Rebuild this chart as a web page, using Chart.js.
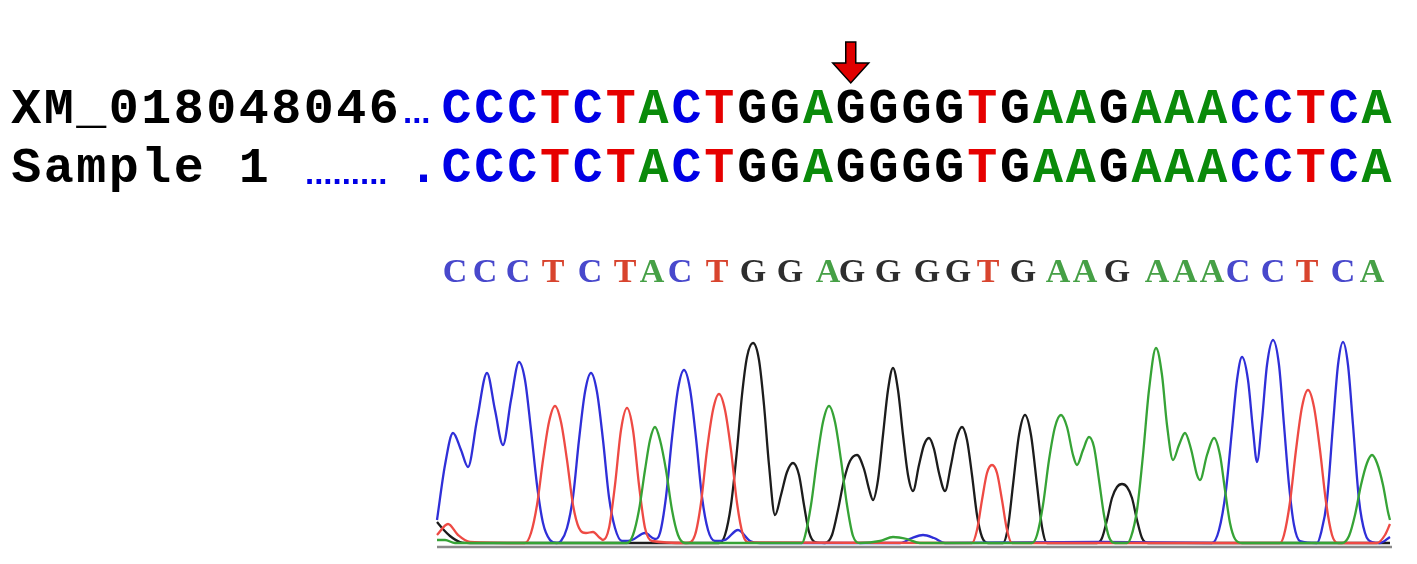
<!DOCTYPE html>
<html>
<head>
<meta charset="utf-8">
<script src="https://cdn.jsdelivr.net/npm/chart.js@4.4.1/dist/chart.umd.min.js"></script>
<style>
html,body{margin:0;padding:0;background:#fff;}
canvas{display:block;}
</style>
</head>
<body>
<canvas id="c" width="1417" height="564"></canvas>
<script>
// ---- data ----
const refLabel = "XM_018048046";
const sampleLabel = "Sample 1";
const refSeq = "CCCTCTACTGGAGGGGTGAAGAAACCTCA";
const sampleSeq = "CCCTCTACTGGAGGGGTGAAGAAACCTCA";
const baseCalls = "CCCTCTACTGGAGGGGTGAAGAAACCTCA".split("");
const basePositions = [18,48,81,116,153,188,215,243,280,316,353,391,415,451,490,521,551,586,621,648,680,720,748,775,801,836,870,906,935];
const snpIndex = 12;

// trace samples [scan, intensity]
const traceC = [[0,250],[8,800],[16,1120],[24,950],[31,780],[40,1250],[50,1720],[58,1350],[66,1000],[74,1450],[82,1830],[88,1650],[94,1150],[100,600],[106,220],[113,50],[120,20],
  [124,40],[130,170],[136,480],[142,1050],[148,1530],[154,1720],[160,1530],[166,1050],[172,480],[178,170],[185,40],
  [195,50],[208,120],[218,60],
  [223,120],[229,480],[235,1070],[241,1560],[247,1750],[253,1560],[259,1070],[265,480],[271,150],[278,40],
  [288,50],[301,150],[313,40],[323,20],[463,20],[475,70],[486,100],[497,70],[508,20],[663,30],[775,20],
  [782,150],[789,550],[795,1150],[800,1650],[805,1880],[811,1650],[816,1150],[820,830],[825,1250],[830,1800],[836,2050],[842,1800],[847,1200],[852,600],[857,200],[863,40],[880,20],
  [884,120],[890,450],[896,1200],[901,1800],[906,2030],[911,1800],[916,1200],[922,450],[928,120],[935,30],[943,20],[953,80]];
const traceT = [[0,100],[11,210],[21,100],[33,30],[88,20],
  [94,120],[100,400],[106,850],[112,1230],[118,1390],[124,1230],[130,850],[136,400],[142,170],[149,120],[156,130],[163,70],
  [166,50],[172,170],[178,600],[184,1150],[190,1370],[196,1150],[202,600],[208,170],[215,40],[250,20],
  [258,100],[264,420],[270,950],[276,1350],[282,1510],[288,1350],[294,950],[300,420],[306,100],[313,25],[530,20],
  [535,20],[540,150],[545,450],[550,720],[555,800],[560,720],[565,450],[570,150],[575,20],[843,20],
  [847,100],[853,430],[859,950],[865,1380],[871,1550],[877,1380],[883,950],[889,430],[895,100],[901,20],
  [940,20],[948,100],[953,210]];
const traceA = [[0,50],[8,50],[18,20],[190,20],
  [196,100],[202,350],[208,750],[213,1050],[218,1180],[223,1050],[229,750],[235,350],[241,100],[248,20],[365,20],
  [368,90],[374,400],[380,850],[386,1230],[392,1390],[398,1230],[404,850],[410,400],[416,90],[423,20],
  [443,40],[456,80],[470,60],[483,20],[595,20],
  [600,100],[606,400],[612,850],[618,1180],[624,1300],[630,1180],[636,900],[640,800],[646,950],[652,1080],[657,980],[662,650],[667,300],[672,80],[678,20],[690,20],
  [694,80],[700,350],[706,900],[712,1550],[719,1970],[725,1700],[730,1200],[736,850],[742,1000],[748,1120],[754,960],[760,700],[763,650],[770,900],[777,1070],[783,900],[788,550],[793,220],[798,60],[805,20],[905,20],
  [912,90],[918,300],[924,600],[930,820],[935,900],[940,820],[946,600],[951,330],[953,250]];
const traceG = [[0,230],[5,170],[13,90],[23,30],[33,20],[282,20],
  [288,100],[294,400],[300,950],[305,1500],[310,1880],[316,2020],[322,1850],[327,1400],[332,800],[338,300],[344,500],[350,730],[356,820],[362,700],[367,400],[372,130],[378,30],[388,20],
  [395,100],[401,350],[407,650],[413,840],[420,900],[427,760],[432,560],[436,450],[441,650],[446,1100],[451,1550],[456,1770],[461,1550],[466,1100],[471,700],[476,540],[482,800],[487,1000],[492,1070],[497,960],[502,720],[508,540],[514,800],[519,1050],[525,1180],[530,1050],[535,700],[540,300],[545,80],[551,20],
  [566,20],[571,180],[576,600],[582,1100],[588,1300],[594,1100],[600,600],[605,180],[610,20],[660,20],
  [665,70],[670,250],[675,470],[680,580],[685,610],[690,580],[695,470],[700,250],[705,70],[711,20],[953,20]];

// ---- styles ----
const seqColor = {A:"#0a8a0a", C:"#0000e6", G:"#000000", T:"#e60000"};
const traceColor = {A:"#36a336", C:"#2f2fd8", G:"#1c1c1c", T:"#ee4a44"};
const callColor = {A:"#46a046", C:"#4848cc", G:"#2e2e2e", T:"#d8442e"};

const toPts = a => a.map(p => ({x:p[0], y:p[1]}));
function ds(label, arr, color){
  return {label, data: toPts(arr), borderColor: color, backgroundColor: color,
    borderWidth: 2.3, pointRadius: 0, showLine: true, fill: false,
    cubicInterpolationMode: 'monotone', clip: false};
}

const overlay = {
  id: 'overlay',
  beforeDatasetsDraw(chart){
    const ctx = chart.ctx, a = chart.chartArea;
    ctx.save();
    ctx.strokeStyle = "#8a8a8a"; ctx.lineWidth = 2.5;
    ctx.beginPath(); ctx.moveTo(a.left, a.bottom); ctx.lineTo(a.right, a.bottom); ctx.stroke();
    ctx.restore();
  },
  afterDraw(chart){
    const ctx = chart.ctx, xs = chart.scales.x;
    ctx.save();
    // base calls above the traces
    ctx.font = "bold 34px 'Liberation Serif'";
    ctx.textAlign = "center"; ctx.textBaseline = "alphabetic";
    baseCalls.forEach((b,i) => {
      ctx.fillStyle = callColor[b];
      ctx.fillText(b, xs.getPixelForValue(basePositions[i]), 282);
    });
    // alignment rows
    const pitchL = 32.5, pitchS = 32.86, seqX = 440;
    ctx.font = "bold 50px 'Liberation Mono'";
    ctx.fillStyle = "#000";
    refLabel.split("").forEach((c,i) => ctx.fillText(c, 10 + (i+0.5)*pitchL, 123));
    sampleLabel.split("").forEach((c,i) => ctx.fillText(c, 10 + (i+0.5)*pitchL, 182));
    refSeq.split("").forEach((c,i) => { ctx.fillStyle = seqColor[c]; ctx.fillText(c, seqX + (i+0.5)*pitchS, 123); });
    sampleSeq.split("").forEach((c,i) => { ctx.fillStyle = seqColor[c]; ctx.fillText(c, seqX + (i+0.5)*pitchS, 182); });
    ctx.fillStyle = seqColor.C;
    ctx.fillText(".", seqX - 0.5*pitchS, 182);
    ctx.font = "bold 33px 'Liberation Sans'";
    ctx.textAlign = "left";
    ctx.fillText("...", 403, 123);
    ctx.fillText(".........", 305, 184);
    // arrow over SNP
    const ax = seqX + (snpIndex+0.5)*pitchS;
    ctx.beginPath();
    ctx.moveTo(ax-5, 42); ctx.lineTo(ax+5, 42); ctx.lineTo(ax+5, 63);
    ctx.lineTo(ax+18, 63); ctx.lineTo(ax, 83); ctx.lineTo(ax-18, 63);
    ctx.lineTo(ax-5, 63); ctx.closePath();
    ctx.fillStyle = "#e00000"; ctx.fill();
    ctx.strokeStyle = "#000"; ctx.lineWidth = 1.5; ctx.stroke();
    ctx.restore();
  }
};

new Chart(document.getElementById('c'), {
  type: 'scatter',
  data: { datasets: [ ds('A', traceA, traceColor.A), ds('T', traceT, traceColor.T), ds('C', traceC, traceColor.C), ds('G', traceG, traceColor.G) ] },
  options: {
    responsive: false, animation: false, devicePixelRatio: 1,
    layout: { padding: { left: 437, right: 25, top: 330, bottom: 17 } },
    scales: {
      x: { type: 'linear', min: 0, max: 955, display: false },
      y: { type: 'linear', min: -20, max: 2150, display: false }
    },
    plugins: { legend: { display: false }, tooltip: { enabled: false } }
  },
  plugins: [overlay]
});
</script>
</body>
</html>
